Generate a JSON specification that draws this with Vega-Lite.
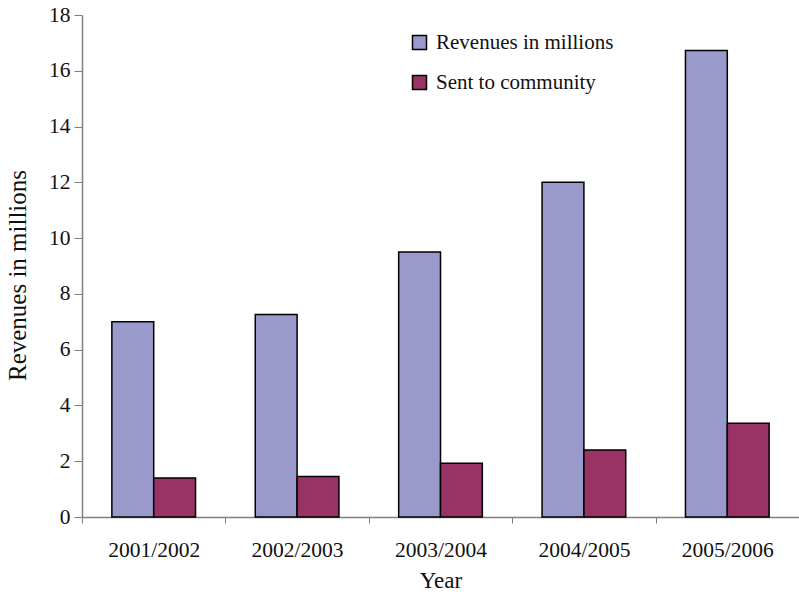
{
  "$schema": "https://vega.github.io/schema/vega-lite/v6.json",
  "width": 717,
  "height": 502,
  "autosize": "none",
  "padding": {"left": 82, "top": 15, "right": 0, "bottom": 75},
  "background": "white",
  "config": {
    "view": {"stroke": null},
    "font": "Liberation Serif"
  },
  "data": {
    "values": [
      {"Year": "2001/2002", "Series": "Revenues in millions", "Value": 7.0},
      {"Year": "2001/2002", "Series": "Sent to community", "Value": 1.4},
      {"Year": "2002/2003", "Series": "Revenues in millions", "Value": 7.26},
      {"Year": "2002/2003", "Series": "Sent to community", "Value": 1.45},
      {"Year": "2003/2004", "Series": "Revenues in millions", "Value": 9.5},
      {"Year": "2003/2004", "Series": "Sent to community", "Value": 1.93},
      {"Year": "2004/2005", "Series": "Revenues in millions", "Value": 12.0},
      {"Year": "2004/2005", "Series": "Sent to community", "Value": 2.4},
      {"Year": "2005/2006", "Series": "Revenues in millions", "Value": 16.73},
      {"Year": "2005/2006", "Series": "Sent to community", "Value": 3.36}
    ]
  },
  "mark": {"type": "bar", "stroke": "black", "strokeWidth": 1.5},
  "encoding": {
    "x": {
      "field": "Year",
      "type": "nominal",
      "scale": {"paddingInner": 0, "paddingOuter": 0},
      "axis": {
        "title": "Year",
        "titleFont": "Liberation Serif",
        "titleFontSize": 23,
        "titleFontWeight": "normal",
        "titleColor": "#111",
        "titleBaseline": "middle",
        "titleY": 63,
        "labelAngle": 0,
        "labelFont": "Liberation Serif",
        "labelFontSize": 21.5,
        "labelColor": "#111",
        "labelPadding": 16,
        "tickBand": "extent",
        "tickSize": 6,
        "tickColor": "#808080",
        "domainColor": "#808080",
        "domainWidth": 1.5,
        "grid": false
      }
    },
    "xOffset": {
      "field": "Series",
      "type": "nominal",
      "scale": {"paddingInner": 0, "paddingOuter": 0.714}
    },
    "y": {
      "field": "Value",
      "type": "quantitative",
      "scale": {"domain": [0, 18], "nice": false},
      "axis": {
        "title": "Revenues in millions",
        "titleFont": "Liberation Serif",
        "titleFontSize": 25,
        "titleFontWeight": "normal",
        "titleColor": "#111",
        "titleX": -65,
        "titleY": 260,
        "titleAlign": "center",
        "titleBaseline": "middle",
        "values": [0, 2, 4, 6, 8, 10, 12, 14, 16, 18],
        "labelFont": "Liberation Serif",
        "labelFontSize": 21.5,
        "labelColor": "#111",
        "labelPadding": 4,
        "tickSize": 8,
        "tickColor": "#808080",
        "domainColor": "#808080",
        "domainWidth": 1.5,
        "grid": false
      }
    },
    "color": {
      "field": "Series",
      "type": "nominal",
      "scale": {
        "domain": ["Revenues in millions", "Sent to community"],
        "range": ["#9999CC", "#993366"]
      },
      "legend": {
        "title": null,
        "orient": "none",
        "legendX": 327,
        "legendY": 17,
        "symbolType": "square",
        "symbolSize": 196,
        "symbolStrokeColor": "black",
        "symbolStrokeWidth": 1.5,
        "labelFont": "Liberation Serif",
        "labelFontSize": 21,
        "labelColor": "#111",
        "labelOffset": 6,
        "rowPadding": 18,
        "labelLimit": 400
      }
    }
  }
}
